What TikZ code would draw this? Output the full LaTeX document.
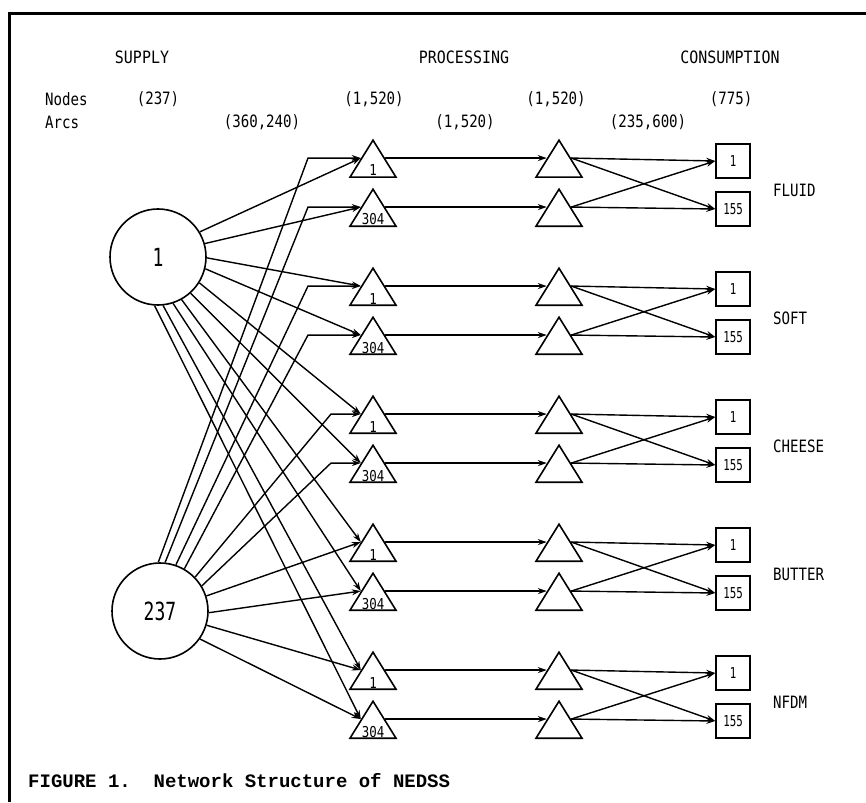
\documentclass[tikz,border=0pt]{standalone}
\usepackage{fontspec}
\usetikzlibrary{shapes.geometric,arrows.meta,calc}
\newfontfamily\plotfont[FakeStretch=0.83]{DejaVu Sans Mono}
\newfontfamily\plottitle[FakeStretch=0.88]{DejaVu Sans Mono}
\newfontfamily\plotbig[FakeStretch=0.72]{DejaVu Sans Mono}
\newfontfamily\plotsmall[FakeStretch=0.72]{DejaVu Sans Mono}
\newfontfamily\capfont{Liberation Mono}
\begin{document}
\begin{tikzpicture}[x=1pt,y=-1pt,
  arr/.style={line width=1.4pt,-{Stealth[length=9pt,width=6pt]}},
  tri/.style={draw, line width=1.6pt, isosceles triangle, shape border rotate=90,
    isosceles triangle stretches, minimum width=46pt, minimum height=37pt,
    inner sep=0pt, anchor=lower side},
  boxn/.style={draw, line width=1.6pt, minimum width=34pt, minimum height=34pt,
    inner sep=0pt, font=\plotsmall\fontsize{15}{15}\selectfont},
  circ/.style={draw, circle, line width=1.6pt, minimum size=96pt, inner sep=0pt,
    font=\plotbig\fontsize{25}{25}\selectfont},
  hdr/.style={font=\plotfont\fontsize{17}{17}\selectfont, inner sep=0pt},
  ttl/.style={font=\plottitle\fontsize{17}{17}\selectfont, inner sep=0pt},
  tlab/.style={font=\plotfont\fontsize{15}{15}\selectfont, anchor=base, inner sep=0pt},
]
\useasboundingbox (0,0) rectangle (866,802);
% frame
\draw[line width=3pt] (9,802) -- (9,14) -- (866,14);
% headers
\node[ttl] (hs) at (142,57) {SUPPLY};
\node[ttl] (hp) at (464,57) {PROCESSING};
\node[ttl] (hc) at (730,57) {CONSUMPTION};
\node[hdr, anchor=west] (hn) at (45,99) {Nodes};
\node[hdr] (n1) at (158,99) {(237)};
\node[hdr] (n2) at (374,99) {(1,520)};
\node[hdr] (n3) at (556,99) {(1,520)};
\node[hdr] (n4) at (731,99) {(775)};
\node[hdr, anchor=west] (ha) at (45,122) {Arcs};
\node[hdr] (a1) at (262,122) {(360,240)};
\node[hdr] (a2) at (465,122) {(1,520)};
\node[hdr] (a3) at (648,122) {(235,600)};
% supply nodes
\node[circ] (c1) at (158,257) {1};
\node[circ] (c237) at (160,611) {237};
% kink x positions
\coordinate (kA) at (308,0);
\coordinate (kB) at (331,0);
% processing and consumption
\foreach \k/\name in {1/FLUID,2/SOFT,3/CHEESE,4/BUTTER,5/NFDM}{
  \pgfmathsetmacro\ya{178+128*(\k-1)}
  \pgfmathsetmacro\yb{227+128*(\k-1)}
  \node[tri] (ta\k) at (373,\ya) {};
  \node[tri] (tb\k) at (373,\yb) {};
  \node[tlab] (la\k) at ($(ta\k.lower side)+(0,-2)$) {1};
  \node[tlab] (lb\k) at ($(tb\k.lower side)+(0,-2)$) {304};
  \node[tri] (ua\k) at (559,\ya) {};
  \node[tri] (ub\k) at (559,\yb) {};
  \node[boxn] (ba\k) at (733,\ya-17) {1};
  \node[boxn] (bb\k) at (733,\yb-18) {155};
  \node[hdr, anchor=west] (lg\k) at (773,\ya+12) {\name};
  \draw[arr] (ta\k.right side) -- (ua\k.left side);
  \draw[arr] (tb\k.right side) -- (ub\k.left side);
  \draw[arr] (ua\k.right side) -- (ba\k.west);
  \draw[arr] (ua\k.right side) -- (bb\k.west);
  \draw[arr] (ub\k.right side) -- (ba\k.west);
  \draw[arr] (ub\k.right side) -- (bb\k.west);
}
% arcs from supply node 1
\foreach \t/\a in {ta1/31,tb1/16,ta2/-1,tb2/-14,ta3/-32,tb3/-48,ta4/-61,tb4/-72,ta5/-84,tb5/-94}{
  \draw[arr] (c1.\a) -- (\t.left side);
}
% arcs from supply node 237
\foreach \t/\a in {ta1/92,tb1/84,ta2/71,tb2/60}{
  \draw[arr] (c237.\a) -- (kA |- \t.left side) -- (\t.left side);
}
\foreach \t/\a in {ta3/44,tb3/31}{
  \draw[arr] (c237.\a) -- (kB |- \t.left side) -- (\t.left side);
}
\foreach \t/\a in {ta4/18,tb4/-2,ta5/-17,tb5/-35}{
  \draw[arr] (c237.\a) -- (\t.left side);
}
% caption
\node[anchor=west, inner sep=0pt, font=\capfont\bfseries\fontsize{19}{19}\selectfont] (cap) at (28,781) {FIGURE 1.\ \ Network Structure of NEDSS};
\end{tikzpicture}
\end{document}
